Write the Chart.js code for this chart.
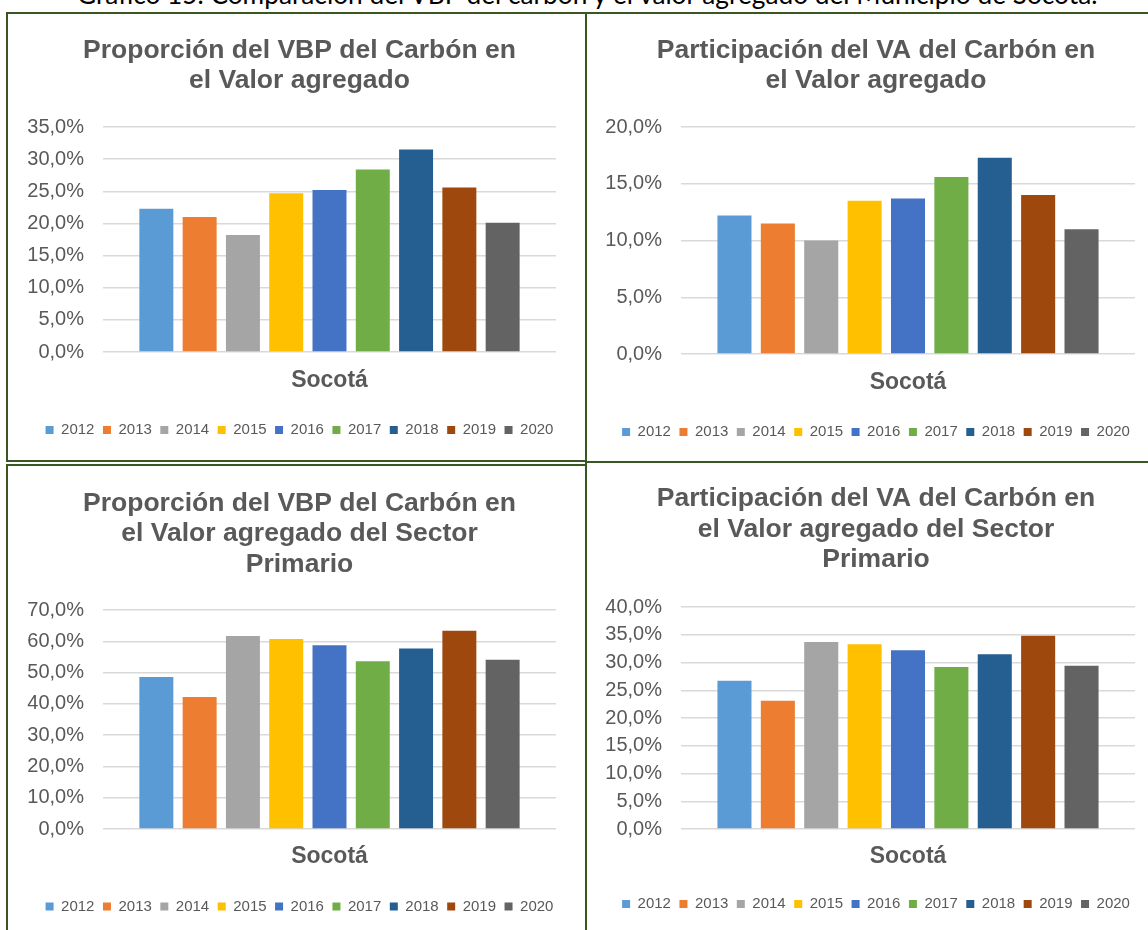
<!DOCTYPE html>
<html><head><meta charset="utf-8">
<script src="https://cdn.jsdelivr.net/npm/chart.js@4.4.1/dist/chart.umd.min.js"></script>
<style>
html,body{margin:0;padding:0;background:#fff;width:1148px;height:930px;overflow:hidden;position:relative;}
.box{position:absolute;border:2px solid #385723;box-sizing:border-box;}
canvas{position:absolute;}
#cap{position:absolute;left:77px;top:-17px;white-space:nowrap;font-family:Lato,'Open Sans',sans-serif;font-size:23px;line-height:1;color:#000;}
</style></head><body>
<div id="cap"><span id="captxt">Gráfico 15. Comparación del VBP del carbón y el valor agregado del Municipio de Socotá.</span><span id="bl" style="display:inline-block;width:0;height:0"></span></div>
<div class="box" style="left:6px;top:12px;width:581px;height:450px"></div>
<div class="box" style="left:585px;top:12px;width:620px;height:451px"></div>
<div class="box" style="left:6px;top:464px;width:581px;height:500px"></div>
<div class="box" style="left:585px;top:461px;width:620px;height:500px"></div>
<canvas id="c1" width="577" height="446" style="left:8px;top:14px"></canvas>
<canvas id="c2" width="572" height="447" style="left:588px;top:14px"></canvas>
<canvas id="c3" width="577" height="463" style="left:8px;top:467px"></canvas>
<canvas id="c4" width="572" height="466" style="left:588px;top:464px"></canvas>
<script>
// ---- data ----
const years = ['2012','2013','2014','2015','2016','2017','2018','2019','2020'];
const category = ['Socotá'];
const vbpEnVA      = [22.3, 21.0, 18.2, 24.7, 25.2, 28.4, 31.5, 25.6, 20.1];
const vaEnVA       = [12.2, 11.5, 10.0, 13.5, 13.7, 15.6, 17.3, 14.0, 11.0];
const vbpEnPrim    = [48.6, 42.2, 61.7, 60.7, 58.7, 53.6, 57.7, 63.4, 54.1];
const vaEnPrim     = [26.7, 23.1, 33.7, 33.3, 32.2, 29.2, 31.5, 34.8, 29.4];
const title1 = ['Proporción del VBP del Carbón en','el Valor agregado'];
const title2 = ['Participación del VA del Carbón en','el Valor agregado'];
const title3 = ['Proporción del VBP del Carbón en','el Valor agregado del Sector','Primario'];
const title4 = ['Participación del VA del Carbón en','el Valor agregado del Sector','Primario'];
const colors = ['#5B9BD5','#ED7D31','#A5A5A5','#FFC000','#4472C4','#70AD47','#255E91','#9E480E','#636363'];

const F = "'Liberation Sans', Arial, sans-serif";
const TXT = '#595959';
function pct(v){ return Number(v).toFixed(1).replace('.', ',') + '%'; }

function makeChart(id, title, values, yMax, step, g){
  const datasets = years.map((y,i)=>({
    label:y, data:[values[i]], backgroundColor:colors[i], borderWidth:0,
    categoryPercentage:0.86, barPercentage:0.785
  }));
  return new Chart(document.getElementById(id), {
    type:'bar',
    data:{labels:category, datasets},
    options:{
      responsive:false, animation:false, devicePixelRatio:1,
      layout:{padding:{left:g.padL,right:g.padR,top:0,bottom:g.padB}},
      plugins:{
        title:{display:true,text:title,color:TXT,
          font:{family:F,size:26.5,weight:'bold',lineHeight:g.tLH+'px'},
          padding:{top:g.tT,bottom:g.tB}},
        legend:{position:'bottom',
          labels:{boxWidth:8,boxHeight:8,padding:8.5,color:TXT,font:{family:F,size:15}}},
        tooltip:{enabled:false}
      },
      scales:{
        x:{grid:{display:false,drawTicks:false},border:{display:false},
          ticks:{color:TXT,padding:g.xPad,font:{family:F,size:23,weight:'bold'}},
          title:{display:g.xGap>0,text:' ',font:{size:Math.max(g.xGap,1),lineHeight:1},padding:0}},
        y:{min:0,max:yMax,grid:{color:'#d9d9d9',lineWidth:1.5,drawTicks:false},border:{display:false},
          ticks:{stepSize:step,autoSkip:false,color:TXT,padding:19,font:{family:F,size:20},callback:v=>pct(v)},
          afterFit:s=>{s.width=g.yW;}},
        yR:{type:'linear',position:'right',display:true,grid:{display:false,drawTicks:false},border:{display:false},
          ticks:{display:false},afterFit:s=>{s.width=g.rW;}}
      }
    }
  });
}

makeChart('c1', title1, vbpEnVA, 35, 5, {padL:15,padR:9,padB:12.5,yW:80,rW:20,tLH:30,tT:22,tB:31,xPad:15.2,xGap:4});
makeChart('c2', title2, vaEnVA, 20, 5, {padL:13,padR:9,padB:11.5,yW:80,rW:16,tLH:30,tT:22,tB:31,xPad:15.2,xGap:4});
makeChart('c3', title3, vbpEnPrim, 70, 10, {padL:15,padR:9,padB:6,yW:80,rW:20,tLH:30.5,tT:21,tB:30.5,xPad:14.2,xGap:5.5});
makeChart('c4', title4, vaEnPrim, 40, 5, {padL:13,padR:9,padB:8.5,yW:80,rW:16,tLH:30.5,tT:19.75,tB:31.75,xPad:14.2,xGap:3});

// caption: fit width and baseline
(function(){
  const cap = document.getElementById('cap');
  const t = document.getElementById('captxt');
  const w = t.getBoundingClientRect().width;
  const fs = 23 * 1021 / w;
  cap.style.fontSize = fs + 'px';
  const bl = document.getElementById('bl').getBoundingClientRect().top;
  cap.style.top = (-17 + (3.5 - bl)) + 'px';
})();
</script>
</body></html>
